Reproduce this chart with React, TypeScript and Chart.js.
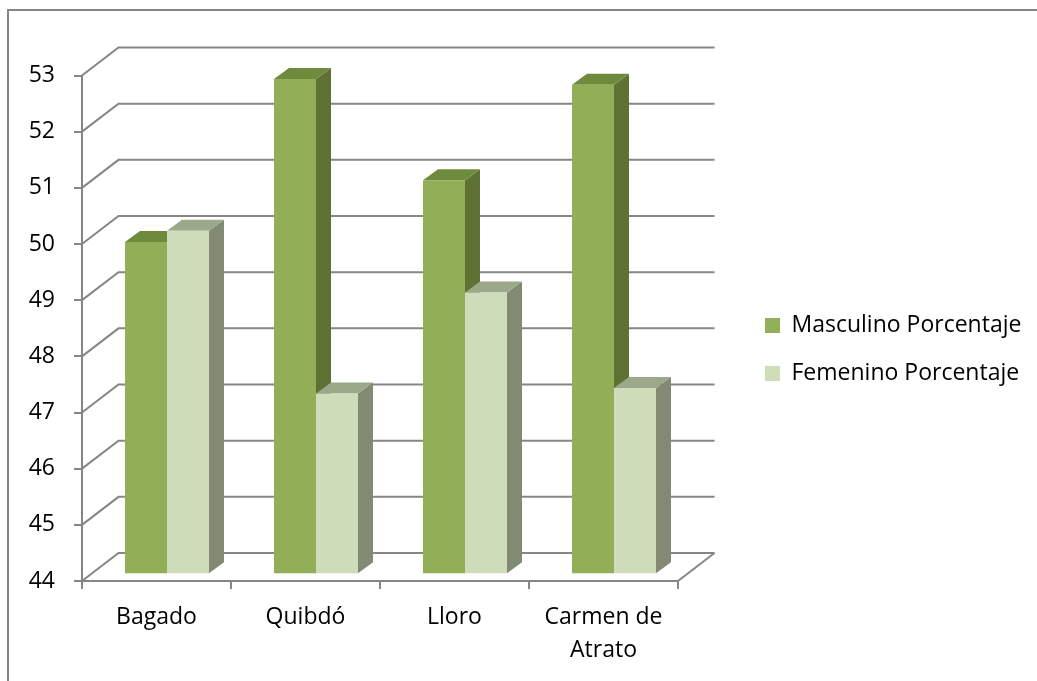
import React, { useEffect, useRef } from 'react';
import { Chart, registerables } from 'chart.js';

Chart.register(...registerables);

// ---- data ----
const categories: (string | string[])[] = ['Bagado', 'Quibdó', 'Lloro', ['Carmen de', 'Atrato']];
const masculino = [49.9, 52.8, 51.0, 52.7];
const femenino = [50.1, 47.2, 49.0, 47.3];
const seriesNames = ['Masculino Porcentaje', 'Femenino Porcentaje'];
const yMin = 44;
const yMax = 53;
const yStep = 1;

// ---- style ----
const FONT = "'Open Sans', sans-serif";
const FONT_SIZE = 23;
const GRID = '#868686';
const WALL_DEPTH = { dx: 36.5, dy: -28 };
const BAR_SHIFT = { dx: 10.5, dy: -7.7 };
const BAR_DEPTH = { dx: 15, dy: -11 };
const colors = [
  { front: '#92AE56', top: '#6E8B3D', side: '#5E7233', legend: '#93B058' },
  { front: '#CEDCBA', top: '#9CA88A', side: '#838A73', legend: '#CFDDBB' },
];

const threeD = {
  id: 'threeD',
  beforeDraw(chart: any) {
    const ctx = chart.ctx;
    ctx.save();
    ctx.fillStyle = '#ffffff';
    ctx.fillRect(0, 0, chart.width, chart.height);
    ctx.strokeStyle = GRID;
    ctx.lineWidth = 2;
    ctx.strokeRect(8, 10, chart.width + 40, chart.height + 40);
    ctx.restore();
  },
  beforeDatasetsDraw(chart: any) {
    const { ctx, chartArea: a, scales } = chart;
    const y = scales.y;
    ctx.save();
    ctx.strokeStyle = GRID;
    ctx.lineWidth = 2;
    y.ticks.forEach((t: any) => {
      const py = y.getPixelForValue(t.value);
      ctx.beginPath();
      ctx.moveTo(a.left, py);
      ctx.lineTo(a.left + WALL_DEPTH.dx, py + WALL_DEPTH.dy);
      ctx.lineTo(a.right + WALL_DEPTH.dx, py + WALL_DEPTH.dy);
      ctx.stroke();
    });
    ctx.beginPath();
    ctx.moveTo(a.right, a.bottom);
    ctx.lineTo(a.right + WALL_DEPTH.dx, a.bottom + WALL_DEPTH.dy);
    ctx.stroke();
    ctx.restore();

    ctx.save();
    ctx.translate(BAR_SHIFT.dx, BAR_SHIFT.dy);
    const floor = y.getPixelForValue(yMin);
    const n = chart.data.labels.length;
    for (let i = 0; i < n; i++) {
      chart.data.datasets.forEach((_ds: any, di: number) => {
        const meta = chart.getDatasetMeta(di);
        const bar = meta.data[i];
        if (!bar) return;
        const { x, y: top, width } = bar.getProps(['x', 'y', 'width'], true);
        const base = floor;
        const l = x - width / 2;
        const r = x + width / 2;
        const c = colors[di];
        ctx.fillStyle = c.side;
        ctx.beginPath();
        ctx.moveTo(r, top);
        ctx.lineTo(r + BAR_DEPTH.dx, top + BAR_DEPTH.dy);
        ctx.lineTo(r + BAR_DEPTH.dx, base + BAR_DEPTH.dy);
        ctx.lineTo(r, base);
        ctx.closePath();
        ctx.fill();
        ctx.fillStyle = c.top;
        ctx.beginPath();
        ctx.moveTo(l, top);
        ctx.lineTo(r, top);
        ctx.lineTo(r + BAR_DEPTH.dx, top + BAR_DEPTH.dy);
        ctx.lineTo(l + BAR_DEPTH.dx, top + BAR_DEPTH.dy);
        ctx.closePath();
        ctx.fill();
      });
    }
  },
  afterDatasetsDraw(chart: any) {
    chart.ctx.restore();
  },
};

export default function App() {
  const ref = useRef<HTMLCanvasElement>(null);
  useEffect(() => {
    if (!ref.current) return;
    const W = 1037;
    const meas = document.createElement('canvas').getContext('2d')!;
    meas.font = `${FONT_SIZE}px ${FONT}`;
    const tw = Math.max(...seriesNames.map((s) => meas.measureText(s).width));
    const legendPad = 25;
    const boxW = 15;
    const legendW = legendPad + boxW + FONT_SIZE / 2 + tw + 10;
    const areaRight = 678;
    const gapAxis = 62;
    const padR = Math.max(0, W - areaRight - gapAxis - legendW);

    Chart.defaults.font.family = FONT;
    Chart.defaults.font.size = FONT_SIZE;
    Chart.defaults.color = '#000000';

    const chart = new Chart(ref.current, {
      type: 'bar',
      data: {
        labels: categories as any,
        datasets: [
          {
            label: seriesNames[0],
            data: masculino,
            backgroundColor: colors[0].front,
            borderWidth: 0,
          },
          {
            label: seriesNames[1],
            data: femenino,
            backgroundColor: colors[1].front,
            borderWidth: 0,
          },
        ],
      },
      options: {
        animation: false,
        responsive: false,
        maintainAspectRatio: false,
        datasets: { bar: { barPercentage: 1, categoryPercentage: 84 / 149 } },
        layout: { padding: { top: 18, bottom: 0, left: 0, right: padR } },
        plugins: {
          tooltip: { enabled: false },
          legend: {
            position: 'right',
            maxWidth: 500,
            labels: {
              boxWidth: boxW,
              boxHeight: 15,
              padding: legendPad,
              color: '#000',
              font: { size: FONT_SIZE, family: FONT },
              generateLabels: (c: any) =>
                c.data.datasets.map((ds: any, i: number) => ({
                  text: ds.label,
                  fillStyle: colors[i].legend,
                  strokeStyle: colors[i].legend,
                  lineWidth: 0,
                  datasetIndex: i,
                  hidden: false,
                })),
            },
          },
        },
        scales: {
          x: {
            type: 'category',
            position: 'bottom',
            offset: true,
            grid: {
              offset: true,
              drawOnChartArea: false,
              drawTicks: true,
              tickLength: 8,
              color: GRID,
              lineWidth: 2,
            },
            border: { display: true, color: GRID, width: 2 },
            ticks: {
              padding: 12,
              maxRotation: 0,
              autoSkip: false,
              font: { size: FONT_SIZE, family: FONT, lineHeight: 1.44 },
              color: '#000',
            },
            afterFit: (s: any) => {
              s.height = 100;
            },
          },
          xTop: {
            type: 'category',
            position: 'top',
            grid: { display: false },
            ticks: { display: false },
            border: { display: false },
            afterFit: (s: any) => {
              s.height = 57.5;
            },
          },
          y: {
            type: 'linear',
            position: 'left',
            min: yMin,
            max: yMax,
            grid: {
              drawOnChartArea: false,
              drawTicks: true,
              tickLength: 8,
              color: GRID,
              lineWidth: 2,
            },
            border: { display: true, color: GRID, width: 2 },
            ticks: {
              stepSize: yStep,
              padding: 19,
              color: '#000',
              font: { size: FONT_SIZE, family: FONT },
            },
            afterFit: (s: any) => {
              s.width = 82;
            },
          },
          yRight: {
            type: 'linear',
            position: 'right',
            grid: { display: false },
            ticks: { display: false },
            border: { display: false },
            afterFit: (s: any) => {
              s.width = gapAxis;
            },
          },
        },
      },
      plugins: [threeD],
    } as any);
    return () => chart.destroy();
  }, []);

  return (
    <div style={{ position: 'fixed', left: 0, top: 0, width: 1037, height: 681, background: '#fff' }}>
      <canvas ref={ref} width={1037} height={681} style={{ display: 'block' }} />
    </div>
  );
}
